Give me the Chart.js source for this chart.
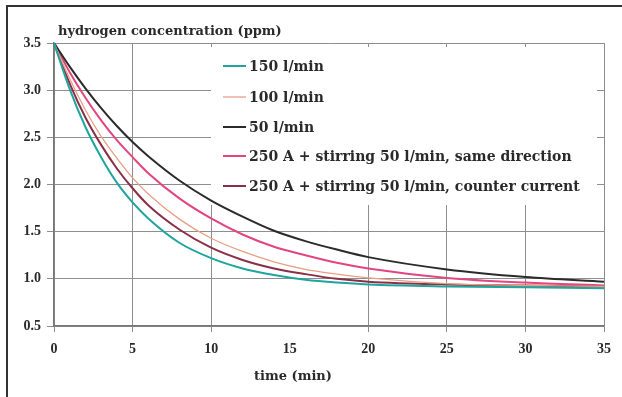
<!DOCTYPE html>
<html>
<head>
<meta charset="utf-8">
<script src="https://cdn.jsdelivr.net/npm/chart.js@4/dist/chart.umd.min.js"></script>
<style>
  html, body { margin: 0; padding: 0; background: #fff; }
  canvas { display: block; }
</style>
</head>
<body>
<canvas id="chart" width="622" height="397"></canvas>
<script>
// time axis (min) and hydrogen concentration (ppm)
const timeMin = [0, 1, 2, 3, 4, 5, 6, 8, 10, 12, 14, 16, 18, 20, 25, 30, 35];
const flow150 = [3.5, 3.01, 2.61, 2.29, 2.02, 1.81, 1.64, 1.38, 1.22, 1.11, 1.04, 0.99, 0.96, 0.94, 0.92, 0.91, 0.90];
const flow100 = [3.5, 3.12, 2.79, 2.51, 2.28, 2.07, 1.90, 1.63, 1.43, 1.29, 1.18, 1.10, 1.05, 1.01, 0.95, 0.93, 0.92];
const flow50 = [3.5, 3.25, 3.02, 2.81, 2.62, 2.45, 2.30, 2.04, 1.83, 1.66, 1.51, 1.40, 1.31, 1.23, 1.10, 1.02, 0.97];
const sameDirection = [3.5, 3.19, 2.92, 2.68, 2.47, 2.29, 2.12, 1.85, 1.64, 1.47, 1.34, 1.25, 1.17, 1.11, 1.01, 0.96, 0.93];
const counterCurrent = [3.5, 3.07, 2.71, 2.42, 2.17, 1.96, 1.78, 1.52, 1.33, 1.20, 1.11, 1.05, 1.00, 0.97, 0.94, 0.93, 0.92];

const seriesLabels = [
  '150 l/min',
  '100 l/min',
  '50 l/min',
  '250 A + stirring 50 l/min, same direction',
  '250 A + stirring 50 l/min, counter current'
];
const seriesColors = ['#1fa59e', '#e6a085', '#2b2b2b', '#e2457f', '#8a2f46'];
const seriesWidths = [2, 1.3, 2, 2, 2];

const xTicks = [0, 5, 10, 15, 20, 25, 30, 35];
const xTickLabels = ['0', '5', '10', '15', '20', '25', '30', '35'];
const yTicks = [0.5, 1.0, 1.5, 2.0, 2.5, 3.0, 3.5];
const yTickLabels = ['0.5', '1.0', '1.5', '2.0', '2.5', '3.0', '3.5'];

const yTitle = 'hydrogen concentration (ppm)';
const xTitle = 'time (min)';

const SERIF = "'Liberation Serif', 'Times New Roman', serif";
const WIDE_SERIF = "'DejaVu Serif', serif";
const GRID = '#8e8e8e';

function toPoints(values) {
  return timeMin.map((t, i) => ({ x: t, y: values[i] }));
}

const seriesValues = [flow150, flow100, flow50, sameDirection, counterCurrent];

const datasets = seriesValues.map((values, i) => ({
  label: seriesLabels[i],
  data: toPoints(values),
  borderColor: seriesColors[i],
  backgroundColor: seriesColors[i],
  borderWidth: seriesWidths[i],
  pointRadius: 0,
  cubicInterpolationMode: 'monotone',
  fill: false
}));

// frame, titles and the boxed legend inside the plot
const decorPlugin = {
  id: 'decor',
  beforeDraw(chart) {
    const ctx = chart.ctx;
    ctx.save();
    ctx.strokeStyle = '#333';
    ctx.lineWidth = 2;
    ctx.beginPath();
    ctx.moveTo(7, 397);
    ctx.lineTo(7, 6);
    ctx.lineTo(622, 6);
    ctx.stroke();
    ctx.restore();
  },
  beforeDatasetsDraw(chart) {
    const ctx = chart.ctx;
    ctx.save();
    ctx.fillStyle = '#fff';
    ctx.fillRect(211, 47, 386, 158);

    const rowY = [66, 97, 127, 156, 186];
    ctx.font = 'bold 14px ' + WIDE_SERIF;
    ctx.textBaseline = 'middle';
    ctx.textAlign = 'left';
    seriesLabels.forEach((label, i) => {
      ctx.strokeStyle = seriesColors[i];
      ctx.lineWidth = seriesWidths[i];
      ctx.beginPath();
      ctx.moveTo(223, rowY[i]);
      ctx.lineTo(246, rowY[i]);
      ctx.stroke();
      ctx.fillStyle = '#2a2a2a';
      ctx.fillText(label, 249, rowY[i] + 1);
    });
    ctx.restore();
  },
  afterDraw(chart) {
    const ctx = chart.ctx;
    ctx.save();
    ctx.fillStyle = '#2a2a2a';
    ctx.font = 'bold 13px ' + WIDE_SERIF;
    ctx.textBaseline = 'middle';
    ctx.textAlign = 'left';
    ctx.fillText(yTitle, 58, 32);
    ctx.textAlign = 'center';
    ctx.fillText(xTitle, 293, 377);
    ctx.restore();
  }
};

new Chart(document.getElementById('chart'), {
  type: 'line',
  data: { datasets },
  options: {
    responsive: false,
    animation: false,
    layout: { padding: { top: 43, right: 18, left: 0, bottom: 0 } },
    plugins: {
      legend: { display: false },
      tooltip: { enabled: false }
    },
    scales: {
      x: {
        type: 'linear',
        min: 0,
        max: 35,
        afterBuildTicks(scale) {
          scale.ticks = xTicks.map((v) => ({ value: v }));
        },
        afterFit(scale) {
          scale.height = 71;
        },
        ticks: {
          color: '#2a2a2a',
          font: { family: SERIF, size: 14, weight: 'bold' },
          padding: 9,
          maxRotation: 0,
          callback: (value, index) => xTickLabels[index]
        },
        grid: {
          color: (ctx) => (ctx.tick && ctx.tick.value === 15 ? 'rgba(0,0,0,0)' : GRID),
          lineWidth: 1,
          tickLength: 6
        },
        border: { color: '#777', width: 1.5 }
      },
      y: {
        type: 'linear',
        min: 0.5,
        max: 3.5,
        afterBuildTicks(scale) {
          scale.ticks = yTicks.map((v) => ({ value: v }));
        },
        afterFit(scale) {
          scale.width = 54;
        },
        ticks: {
          color: '#2a2a2a',
          font: { family: SERIF, size: 14, weight: 'bold' },
          padding: 6,
          callback: (value, index) => yTickLabels[index]
        },
        grid: {
          color: GRID,
          lineWidth: 1,
          tickLength: 7
        },
        border: { color: '#777', width: 1.5 }
      }
    }
  },
  plugins: [decorPlugin]
});
</script>
</body>
</html>
